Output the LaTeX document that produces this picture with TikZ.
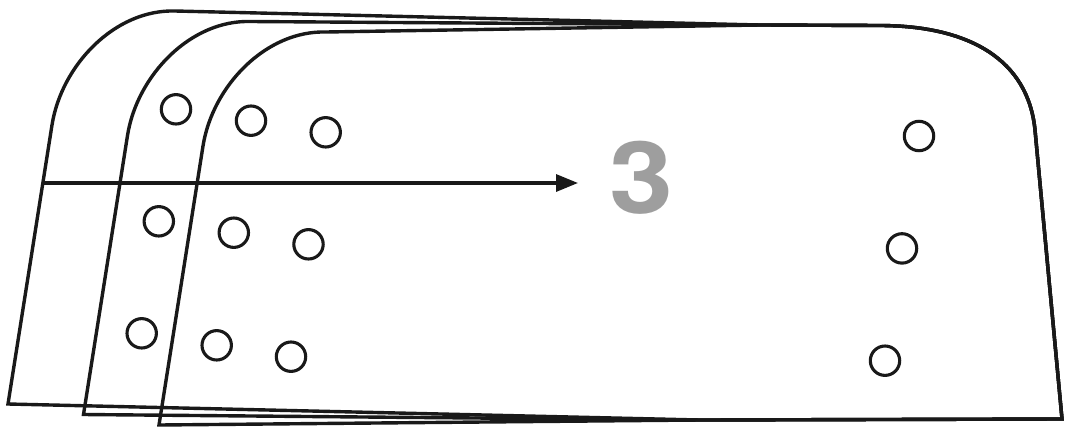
\documentclass[tikz,border=0pt]{standalone}
\usepackage{fontspec}
\newfontfamily\threefont{TeX Gyre Heros}
\usetikzlibrary{arrows.meta}
\definecolor{threegray}{RGB}{158,158,158}
\tikzset{
  sheet/.style={draw=black!90, line width=3.4pt, line join=miter},
  hole/.style={circle, draw=black!90, line width=3.1pt, minimum size=29.4pt, inner sep=0pt},
  arrowline/.style={draw=black!90, line width=3.2pt, -{Triangle[length=22pt,width=17pt]}},
  bignum/.style={inner sep=0pt, text=threegray, font=\threefont\bfseries\fontsize{100}{100}\selectfont}
}
\begin{document}
\begin{tikzpicture}[x=1pt,y=-1pt]
\useasboundingbox (0,0) rectangle (1065,426);
% three stacked sheets
\foreach \k in {0,1,2}{
  \pgfmathsetmacro\dx{75.5*\k}
  \pgfmathsetmacro\dy{10.5*\k}
  \draw[sheet] (8+\dx,404+\dy) -- (52+\dx,125+\dy)
    .. controls (61.5+\dx,65+\dy) and (115+\dx,9.3+\dy) .. (175+\dx,11+\dy)
    -- (760,25) -- (880,25.5)
    .. controls (970,25.8) and (1028,60) .. (1035,130)
    -- (1062,419) -- (700,420) -- cycle;
}
% holes
\node[hole] (h11) at (176,109.3) {};
\node[hole] (h12) at (251,120.7) {};
\node[hole] (h13) at (325.7,132.3) {};
\node[hole] (h14) at (919,136) {};
\node[hole] (h21) at (158.8,221.3) {};
\node[hole] (h22) at (233.8,232.7) {};
\node[hole] (h23) at (308.5,244.3) {};
\node[hole] (h24) at (902,248.4) {};
\node[hole] (h31) at (141.7,333.3) {};
\node[hole] (h32) at (216.7,345.3) {};
\node[hole] (h33) at (291,356.7) {};
\node[hole] (h34) at (885,360.7) {};
% label and arrow
\node[bignum] (three) at (641,177.5) {\scalebox{1.15}[1]{3}};
\coordinate (arrowstart) at (43,183);
\coordinate (arrowend) at (578,183);
\draw[arrowline] (arrowstart) -- (arrowend);
\end{tikzpicture}
\end{document}
